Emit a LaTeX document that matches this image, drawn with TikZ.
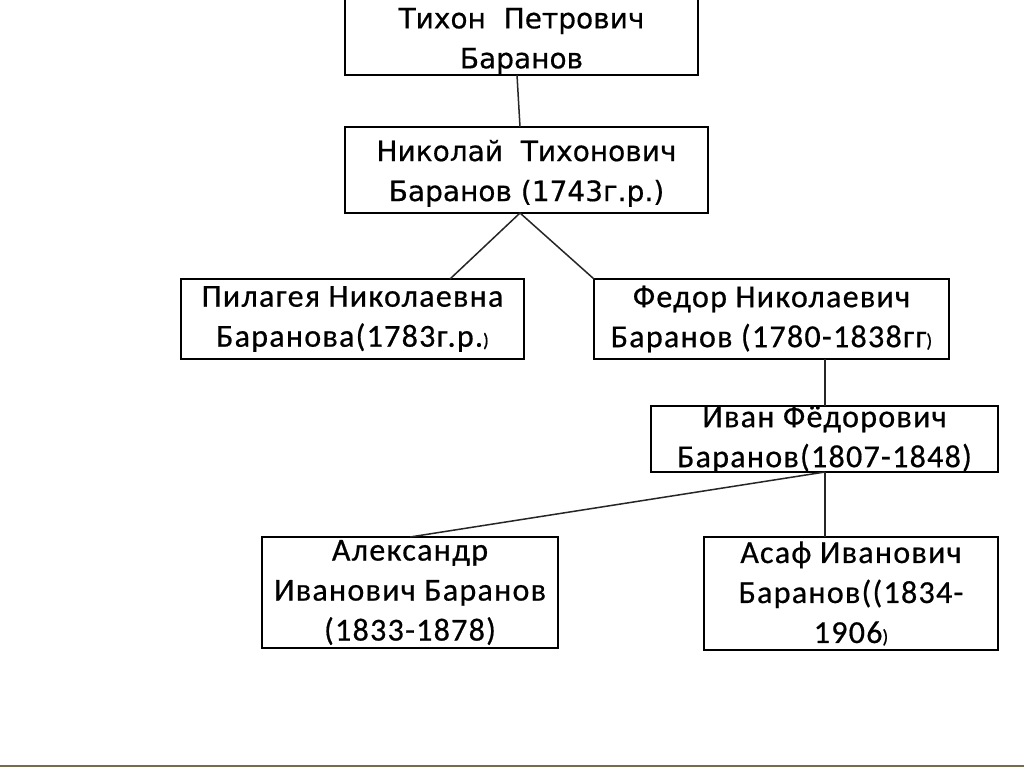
\documentclass[tikz,border=0pt]{standalone}
\usepackage{fontspec}
\setmainfont{Carlito}[LetterSpace=4,FakeBold=0.6]
\newfontfamily\topfont{DejaVu Sans}[FakeBold=0.5]
\newcommand{\smallparen}{{\fontsize{19}{19}\selectfont)}}
\begin{document}
\begin{tikzpicture}[x=1pt,y=-1pt,
  box/.style={draw=black,line width=1.8pt,fill=white,inner sep=0pt,align=center,
    font=\fontsize{32}{40}\selectfont},
  topbox/.style={box,font=\topfont\fontsize{28}{40}\selectfont},
  link/.style={draw=black!85,line width=1.5pt}]
\useasboundingbox (0,0) rectangle (1024,767);
\fill[white] (0,0) rectangle (1024,767);
\draw[color=black!45!olive!60!gray,line width=2pt] (0,766) -- (1024,766);
\node[topbox,minimum width=353pt,minimum height=80pt] (t) at (521.5,35) {\rule{0pt}{32.5pt}Тихон\ \ Петрович\\Баранов};
\node[topbox,minimum width=363pt,minimum height=86pt] (n) at (526.5,170) {\rule{0pt}{28pt}Николай\ \ Тихонович\\Баранов (1743г.р.)};
\node[box,minimum width=343pt,minimum height=80pt] (p) at (352.5,319) {Пилагея Николаевна\\Баранова(1783г.р.\smallparen};
\node[box,minimum width=355pt,minimum height=80pt] (f) at (771.5,319) {Федор Николаевич\\Баранов (1780-1838гг\smallparen};
\node[box,minimum width=347pt,minimum height=66pt] (i) at (824.5,439) {Иван Фёдорович\\Баранов(1807-1848)};
\node[box,minimum width=296pt,minimum height=111pt] (a) at (410,592.5) {Александр\\Иванович Баранов\\(1833-1878)};
\node[box,minimum width=294pt,minimum height=113pt] (s) at (851,593.5) {Асаф Иванович\\Баранов((1834-\\1906\smallparen};
\coordinate (tb) at (517,75);
\coordinate (nt) at (520,127);
\coordinate (nb) at (520,213);
\coordinate (pt) at (450,279);
\coordinate (ft) at (594,279);
\coordinate (fb) at (825,359);
\coordinate (it) at (825,406);
\coordinate (ib) at (825,472);
\coordinate (at) at (410,537);
\coordinate (st) at (825,537);
\draw[link] (tb) -- (nt);
\draw[link] (nb) -- (pt);
\draw[link] (nb) -- (ft);
\draw[link] (fb) -- (it);
\draw[link] (ib) -- (at);
\draw[link] (ib) -- (st);
\end{tikzpicture}
\end{document}
